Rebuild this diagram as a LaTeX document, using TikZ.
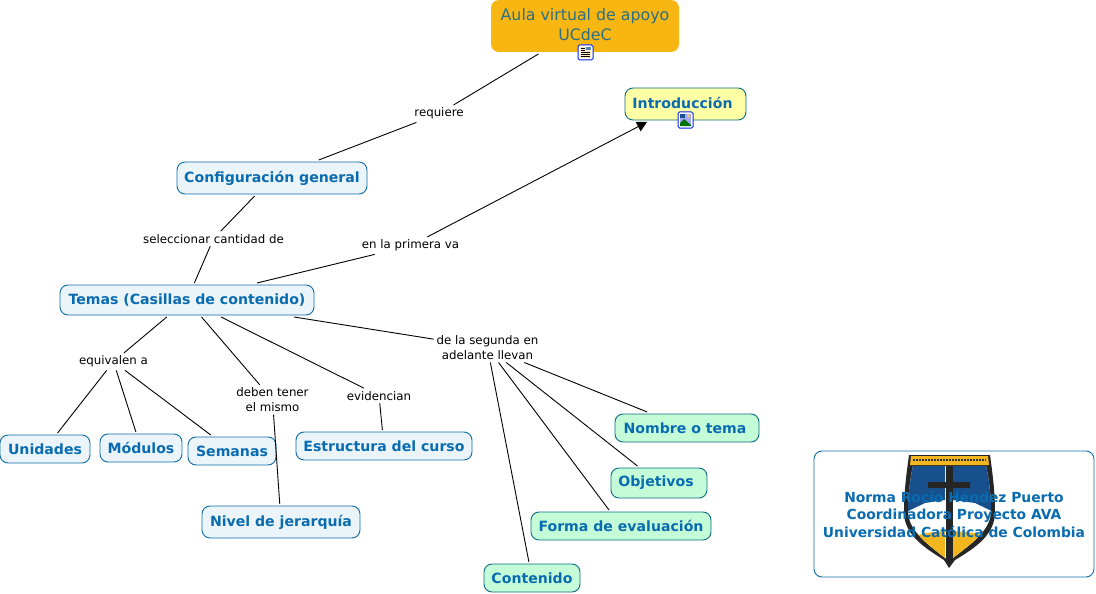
\documentclass[tikz,border=0pt]{standalone}
\usepackage{fontspec}
\setmainfont{DejaVu Sans}
\usetikzlibrary{arrows.meta}
\definecolor{txtblue}{HTML}{0A6CB0}
\definecolor{bordblue}{HTML}{0F6CA8}
\definecolor{paleblue}{HTML}{EAF4F9}
\definecolor{palegreen}{HTML}{C4FCD8}
\definecolor{paleyellow}{HTML}{FFFFA6}
\definecolor{rootorange}{HTML}{F8B612}
\definecolor{roottxt}{HTML}{2B6F85}
\definecolor{teal}{HTML}{0B6E82}
\definecolor{shieldblue}{HTML}{17508C}
\definecolor{shieldgold}{HTML}{F2B71F}
\tikzset{
  concept/.style={draw=bordblue,line width=0.9pt,fill=paleblue,rounded corners=8pt,text=txtblue,
    font=\fontsize{14.1}{16}\selectfont\bfseries,inner sep=0pt,outer sep=2pt,align=center},
  gconcept/.style={concept,fill=palegreen,draw=teal},
  linklabel/.style={font=\fontsize{11.8}{14.5}\selectfont,text=black,align=center,inner sep=0pt,outer sep=3pt,yshift=-0.7pt},
  conn/.style={draw=black,line width=0.9pt},
  iconbox/.style={draw=blue!60!bordblue,line width=1pt,fill=white,rounded corners=1.5pt}
}
\begin{document}
\begin{tikzpicture}[x=1pt,y=-1pt]
\useasboundingbox (0,0) rectangle (1096,594);
% concepts
\node[concept,fill=rootorange,draw=none,font=\fontsize{15.8}{20}\selectfont,text=roottxt,minimum width=188pt,minimum height=52pt] (root) at (585,26) {\raisebox{3pt}{Aula virtual de apoyo}\\\raisebox{3pt}{UCdeC}};
\node[concept,fill=paleyellow,draw=teal,minimum width=121pt,minimum height=32pt] (intro) at (685.5,104) {\raisebox{3pt}{Introducción}\hspace{6pt}};
\node[concept,minimum width=190pt,minimum height=32pt] (config) at (272,178) {Configuración general};
\node[concept,minimum width=254pt,minimum height=30pt] (temas) at (187,300) {Temas (Casillas de contenido)};
\node[concept,minimum width=90pt,minimum height=28pt] (unidades) at (45,449) {Unidades};
\node[concept,minimum width=82pt,minimum height=28pt] (modulos) at (141,448) {Módulos};
\node[concept,minimum width=88pt,minimum height=28pt] (semanas) at (232,451) {Semanas};
\node[concept,minimum width=176pt,minimum height=28pt] (estructura) at (384,446) {Estructura del curso};
\node[concept,minimum width=158pt,minimum height=32pt] (nivel) at (281,522) {\raisebox{1pt}{Nivel de jerarquía}};
\node[gconcept,minimum width=144pt,minimum height=28pt] (nombre) at (687,428) {Nombre o tema\hspace{4pt}};
\node[gconcept,minimum width=96pt,minimum height=30pt] (objetivos) at (659,483) {Objetivos\hspace{6pt}};
\node[gconcept,minimum width=180pt,minimum height=28pt] (forma) at (621,526) {Forma de evaluación};
\node[gconcept,minimum width=96pt,minimum height=28pt] (contenido) at (532,578) {Contenido};
% labels
\node[linklabel] (lreq) at (439,113) {requiere};
\node[linklabel] (lsel) at (213.5,238) {seleccionar cantidad de};
\node[linklabel] (lpri) at (410.5,245) {en la primera va};
\node[linklabel] (lequ) at (113.5,361) {equivalen a};
\node[linklabel] (ldeb) at (272.5,399) {deben tener\\el mismo};
\node[linklabel] (levi) at (379,395) {evidencian};
\node[linklabel] (lseg) at (487.5,347) {de la segunda en\\adelante llevan};
% connectors
\draw[conn] (root) -- (lreq);
\draw[conn] (lreq) -- (config);
\draw[conn] (config) -- (lsel);
\draw[conn] (lsel) -- (temas);
\draw[conn] (temas) -- (lpri);
\draw[conn,-{Triangle[length=10pt,width=10.5pt]}] (lpri) -- ([xshift=-38.5pt,yshift=0pt]intro.south);
\draw[conn] (temas) -- (lequ);
\draw[conn] (lequ) -- (unidades);
\draw[conn] (lequ) -- (modulos);
\draw[conn] (lequ) -- (semanas);
\draw[conn] (temas) -- (ldeb);
\draw[conn] (ldeb) -- (nivel);
\draw[conn] (temas) -- (levi);
\draw[conn] (levi) -- (estructura);
\draw[conn] (temas) -- (lseg);
\draw[conn] (lseg) -- (nombre);
\draw[conn] (lseg) -- (objetivos);
\draw[conn] (lseg) -- (forma);
\draw[conn] (lseg) -- (contenido);
% icons
\draw[iconbox] (578,45) rectangle (593,60);
\fill[shieldgold!25] (580,47) rectangle (591,58);
\draw[black,line width=0.7pt] (581,48) -- (585,48) (581,50) -- (585,50) (581,52) -- (590,52) (581,54) -- (590,54) (581,56) -- (590,56);
\fill[shieldblue!70] (586,47.5) rectangle (590.5,50.5);
\draw[iconbox] (678,112) rectangle (693,128);
\fill[blue!35!white] (680,114) rectangle (691,126);
\fill[shieldblue] (680,114) rectangle (685,118);
\fill[green!45!black] (680,126) -- (680,123) -- (684,119) -- (691,125) -- (691,126) -- cycle;
\fill[shieldgold!70] (688.5,116) circle (1.7pt);
% logo panel
\draw[draw=bordblue,line width=0.9pt,fill=white,rounded corners=8pt] (814,451) rectangle (1094,577);
\fill[black!85] (909,455) -- (990,455) .. controls (992,470) and (995,490) .. (995,512) .. controls (995,535) and (975,548) .. (955,560) -- (949,568) -- (944,560) .. controls (925,548) and (904,535) .. (904,512) .. controls (904,490) and (907,470) .. (909,455) -- cycle;
\fill[shieldgold] (911,456) -- (988,456) -- (989,465) -- (910,465) -- cycle;
\draw[black!80,line width=1.2pt,dash pattern=on 2pt off 1pt] (913,460) -- (986,460);
\begin{scope}
\clip (913,466) -- (986,466) .. controls (989,480) and (991,495) .. (991,512) .. controls (990,532) and (968,546) .. (949,561) .. controls (930,546) and (909,532) .. (908,512) .. controls (908,495) and (910,480) .. (913,466) -- cycle;
\fill[white] (900,460) rectangle (1000,570);
\fill[shieldblue] (900,460) -- (945,460) -- (945,500) -- (925,503) -- (900,515) -- cycle;
\fill[shieldblue] (953,460) -- (1000,460) -- (1000,515) -- (975,503) -- (953,500) -- cycle;
\fill[shieldgold] (900,540) -- (925,533) -- (945,531) -- (945,570) -- (900,570) -- cycle;
\fill[shieldgold] (1000,540) -- (975,533) -- (953,531) -- (953,570) -- (1000,570) -- cycle;
\end{scope}
\fill[black!85] (945.5,466) rectangle (952.5,563);
\fill[black!85] (928,482) rectangle (970,488);
\node[font=\fontsize{13.85}{17.2}\selectfont\bfseries,text=txtblue,align=center,inner sep=0pt] (panel) at (954,514.5) {Norma Rocío Héndez Puerto\\Coordinadora Proyecto AVA\\Universidad Católica de Colombia};
\end{tikzpicture}
\end{document}
